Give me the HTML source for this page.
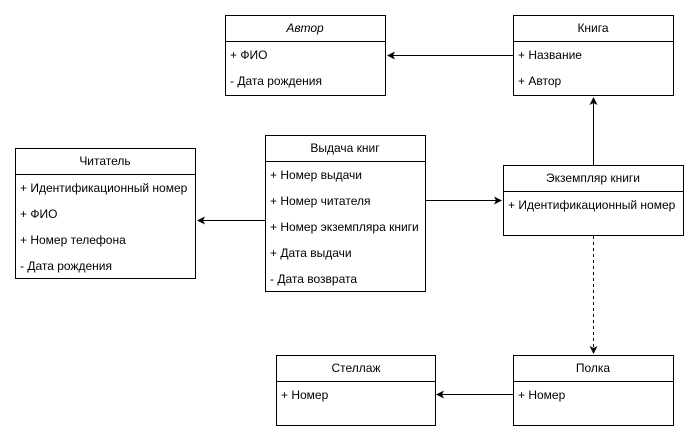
<!DOCTYPE html>
<html><head><meta charset="utf-8"><style>
html,body{margin:0;padding:0;background:#fff;}
svg{display:block;}
text{font-family:"Liberation Sans",Arial,sans-serif;font-size:12px;fill:#000;}
</style></head><body>
<svg width="699" height="442" viewBox="0 0 699 442" xmlns="http://www.w3.org/2000/svg">
<defs>
<marker id="a" markerWidth="10" markerHeight="10" refX="7" refY="4" orient="auto" markerUnits="userSpaceOnUse">
<path d="M0,0 L8,4 L0,8 L2,4 Z" fill="#000"/>
</marker>
</defs>
<g fill="#fff" stroke="#000" stroke-width="1">
<rect x="225.5" y="15.5" width="160" height="80"/><line x1="225" y1="41.5" x2="386" y2="41.5"/>
<rect x="513.5" y="15.5" width="160" height="80"/><line x1="513" y1="41.5" x2="674" y2="41.5"/>
<rect x="265.5" y="135.5" width="160" height="156"/><line x1="265" y1="161.5" x2="426" y2="161.5"/>
<rect x="15.5" y="148.5" width="180" height="130"/><line x1="15" y1="174.5" x2="196" y2="174.5"/>
<rect x="503.5" y="165.5" width="180" height="70"/><line x1="503" y1="191.5" x2="684" y2="191.5"/>
<rect x="276.5" y="355.5" width="159" height="70"/><line x1="276" y1="381.5" x2="436" y2="381.5"/>
<rect x="513.5" y="355.5" width="160" height="70"/><line x1="513" y1="381.5" x2="674" y2="381.5"/>
</g>
<g stroke="#000" stroke-width="1" fill="none">
<line x1="513" y1="55.5" x2="388" y2="55.5" marker-end="url(#a)"/>
<line x1="265" y1="220.5" x2="198" y2="220.5" marker-end="url(#a)"/>
<line x1="425" y1="200.5" x2="501" y2="200.5" marker-end="url(#a)"/>
<line x1="593.5" y1="165" x2="593.5" y2="98" marker-end="url(#a)"/>
<line x1="593.5" y1="236" x2="593.5" y2="353" stroke-dasharray="3,3" marker-end="url(#a)"/>
<line x1="513" y1="394.5" x2="437" y2="394.5" marker-end="url(#a)"/>
</g>
<text x="305" y="32" text-anchor="middle" font-style="italic">Автор</text>
<text x="230" y="59">+ ФИО</text>
<text x="230" y="85">- Дата рождения</text>
<text x="593" y="32" text-anchor="middle">Книга</text>
<text x="518" y="59">+ Название</text>
<text x="518" y="85">+ Автор</text>
<text x="345" y="152" text-anchor="middle">Выдача книг</text>
<text x="270" y="179">+ Номер выдачи</text>
<text x="270" y="205">+ Номер читателя</text>
<text x="270" y="231">+ Номер экземпляра книги</text>
<text x="270" y="257">+ Дата выдачи</text>
<text x="270" y="283">- Дата возврата</text>
<text x="105" y="165" text-anchor="middle">Читатель</text>
<text x="20" y="192">+ Идентификационный номер</text>
<text x="20" y="218">+ ФИО</text>
<text x="20" y="244">+ Номер телефона</text>
<text x="20" y="270">- Дата рождения</text>
<text x="593" y="182" text-anchor="middle">Экземпляр книги</text>
<text x="508" y="209">+ Идентификационный номер</text>
<text x="356" y="372" text-anchor="middle">Стеллаж</text>
<text x="281" y="399">+ Номер</text>
<text x="593" y="372" text-anchor="middle">Полка</text>
<text x="518" y="399">+ Номер</text>
</svg>
</body></html>
